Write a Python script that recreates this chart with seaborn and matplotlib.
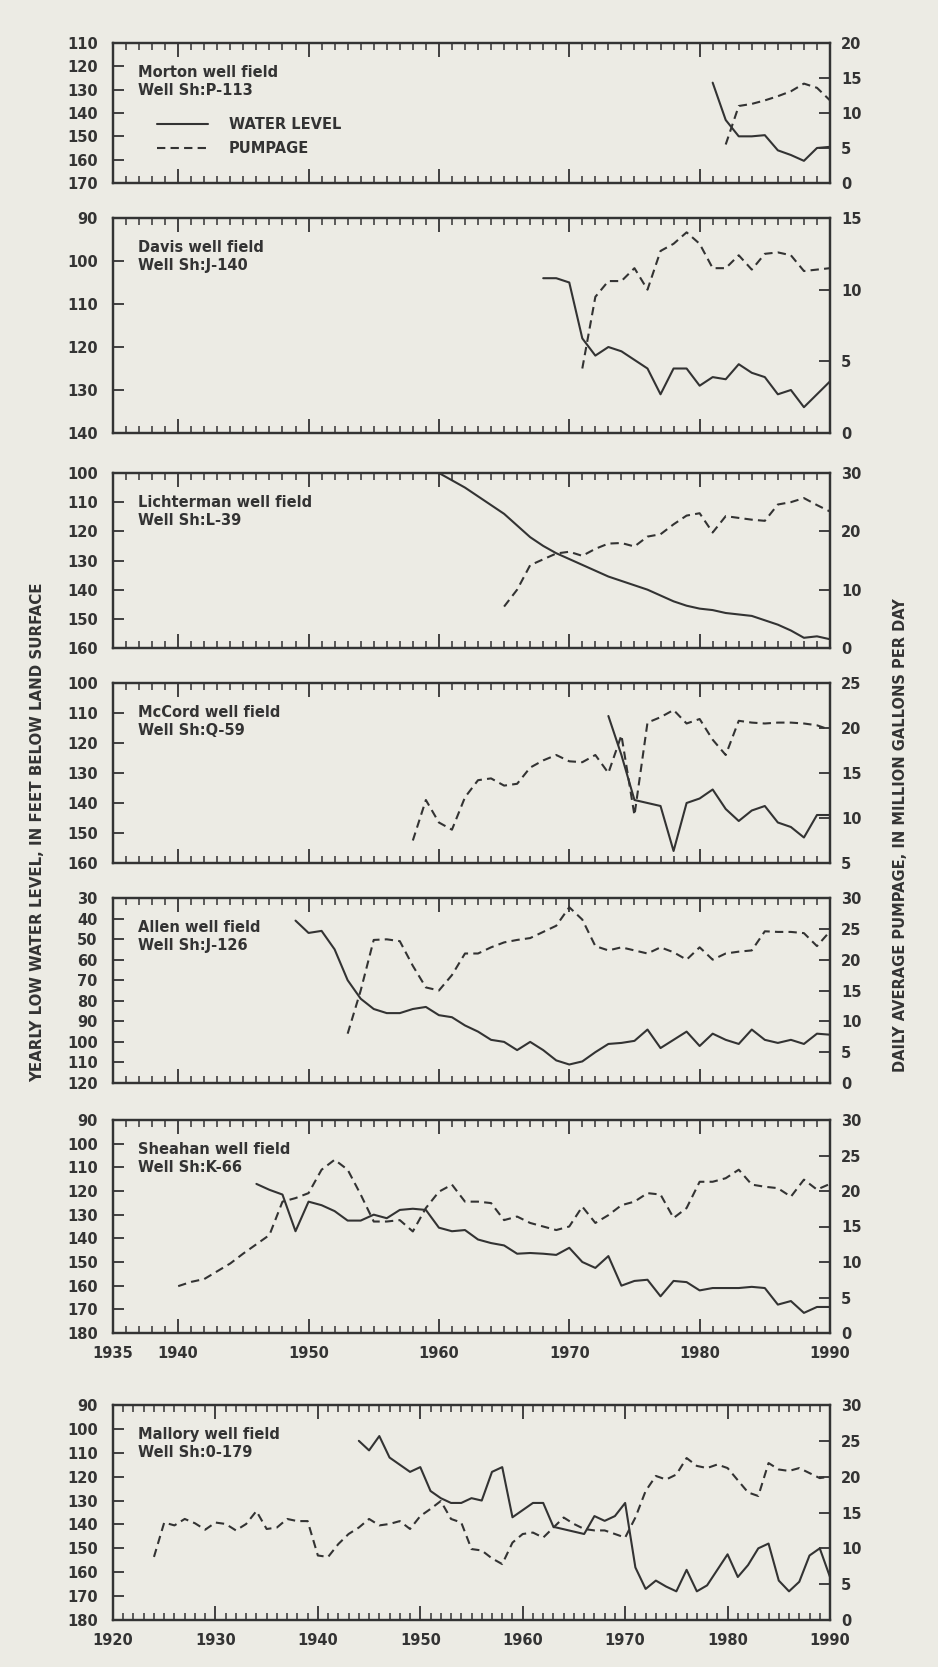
import matplotlib
matplotlib.use("Agg")
import matplotlib.pyplot as plt
import seaborn as sns
from matplotlib.ticker import FixedLocator, MultipleLocator

# === Data (read off the hydrographs) ===
# water level = yearly low, feet below land surface; pumpage = million gallons per day

morton_level_years = list(range(1981, 1991))
morton_level = [127, 143, 150, 150, 149.5, 156, 158, 160.5, 155, 154.5]
morton_pump_years = list(range(1982, 1991))
morton_pump = [5.5, 11.0, 11.3, 11.8, 12.4, 13.1, 14.2, 13.6, 11.8]

davis_level_years = list(range(1968, 1991))
davis_level = [104, 104, 105, 118, 122, 120, 121, 123, 125, 131, 125, 125, 129,
               127, 127.5, 124, 126, 127, 131, 130, 134, 131, 128]
davis_pump_years = list(range(1971, 1991))
davis_pump = [4.5, 9.5, 10.6, 10.6, 11.5, 10.0, 12.7, 13.2, 14.0, 13.2, 11.5,
              11.5, 12.4, 11.4, 12.5, 12.6, 12.4, 11.3, 11.4, 11.5]

licht_level_years = list(range(1960, 1991))
licht_level = [100, 102.5, 105, 108, 111, 114, 118, 122, 125, 127.5, 129.5, 131.5,
               133.5, 135.5, 137, 138.5, 140, 142, 144, 145.5, 146.5, 147, 148,
               148.5, 149, 150.5, 152, 154, 156.5, 156, 157]
licht_pump_years = list(range(1965, 1991))
licht_pump = [7.1, 10, 14.2, 15.2, 16.2, 16.5, 15.8, 17, 17.9, 18, 17.4, 19.1, 19.5,
              21.2, 22.7, 23.1, 19.8, 22.6, 22.3, 22.0, 21.8, 24.6, 25, 25.7, 24.5, 23.4]

mccord_level_years = list(range(1973, 1991))
mccord_level = [111, 124, 139, 140, 141, 156, 140, 138.5, 135.5, 142, 146, 142.5,
                141, 146.5, 148, 151.5, 144, 144]
mccord_pump_years = list(range(1958, 1991))
mccord_pump = [7.5, 12, 9.5, 8.7, 12.3, 14.2, 14.4, 13.6, 13.8, 15.6, 16.4, 17, 16.3,
               16.2, 17, 15, 19.2, 10.3, 20.6, 21.2, 22, 20.5, 21, 18.7, 17, 20.8,
               20.6, 20.5, 20.6, 20.6, 20.5, 20.3, 19.8]

allen_level_years = list(range(1949, 1991))
allen_level = [41, 47, 46, 55, 70, 79, 84, 86, 86, 84, 83, 87, 88, 92, 95, 99, 100,
               104, 100, 104, 109, 111, 109.5, 105, 101, 100.5, 99.5, 94, 103, 99,
               95, 102, 96, 99, 101, 94, 99, 100.5, 99, 101, 96, 96.5]
allen_pump_years = list(range(1953, 1991))
allen_pump = [8, 15, 23.2, 23.3, 23, 19, 15.5, 15, 17.5, 21, 21, 22, 22.8, 23.2, 23.5,
              24.5, 25.5, 28.5, 26.5, 22.2, 21.5, 22, 21.5, 21, 22, 21.2, 20, 22, 20,
              21, 21.3, 21.5, 24.6, 24.5, 24.5, 24.3, 22.2, 24.6]

sheahan_level_years = list(range(1946, 1991))
sheahan_level = [117, 119.5, 121.5, 137, 124.5, 126, 128.5, 132.5, 132.5, 130, 131.5,
                 128, 127.5, 128, 135.5, 137, 136.5, 140.5, 142, 143, 146.5, 146.2,
                 146.5, 147, 144, 150, 152.5, 147.5, 160, 158, 157.5, 164.5, 158,
                 158.5, 162, 161, 161, 161, 160.5, 161, 168, 166.5, 171.5, 169, 169]
sheahan_pump_years = list(range(1940, 1991))
sheahan_pump = [6.6, 7.2, 7.6, 8.7, 9.8, 11.2, 12.5, 13.8, 18.5, 19, 19.7, 23, 24.4,
                23, 19.5, 15.7, 15.7, 15.9, 14.3, 17.6, 19.9, 20.9, 18.5, 18.5, 18.3,
                15.9, 16.4, 15.5, 15, 14.5, 15, 17.8, 15.5, 16.6, 18, 18.5, 19.7, 19.5,
                16.2, 17.6, 21.3, 21.3, 21.8, 23, 20.9, 20.6, 20.4, 19.2, 21.6, 20.2, 21]

mallory_level_years = list(range(1944, 1991))
mallory_level = [105, 109, 103, 112, 115, 118, 116, 126, 129, 131, 131, 129, 130, 118,
                 116, 137, 134, 131, 131, 141, 142, 143, 144, 136.5, 138.5, 136.5, 131,
                 158, 167, 163.5, 166, 168, 159, 168, 165.5, 159, 152.5, 162, 157, 150,
                 148, 163.5, 168, 164, 153, 150, 162]
mallory_pump_years = list(range(1924, 1991))
mallory_pump = [8.8, 13.6, 13.2, 14.1, 13.5, 12.6, 13.6, 13.4, 12.5, 13.4, 15.2, 12.7,
                12.9, 14.1, 13.8, 13.8, 9, 8.8, 10.6, 12, 12.9, 14.1, 13.2, 13.4, 13.8,
                12.7, 14.5, 15.5, 16.6, 14.1, 13.6, 9.9, 9.7, 8.6, 7.8, 10.8, 12, 12.2,
                11.5, 12.9, 14.3, 13.4, 12.7, 12.5, 12.5, 12, 11.5, 14.3, 18, 20.1,
                19.6, 20.3, 22.6, 21.5, 21.2, 21.7, 21.2, 19.5, 17.8, 17.3, 21.9, 21,
                20.8, 21.2, 20.5, 19.8, 20]

# === Style ===
sns.set_style("ticks")
plt.rcParams['font.family'] = ['DejaVu Sans']
plt.rcParams['font.weight'] = 'bold'
INK = '#333333'
PAPER = '#ECEBE4'
FS = 10.5

W, H = 938, 1667
LEFT, RIGHT = 113, 830


def rect(top, bottom):
    return [LEFT / W, 1 - bottom / H, (RIGHT - LEFT) / W, (bottom - top) / H]


# name, well, level data, pump data, left axis, right axis, pixel box, x start
panels = [
    ("Morton", "Sh:P-113", morton_level_years, morton_level, morton_pump_years, morton_pump,
     (110, 170), (0, 20, 5), (43, 183), 1935),
    ("Davis", "Sh:J-140", davis_level_years, davis_level, davis_pump_years, davis_pump,
     (90, 140), (0, 15, 5), (218, 433), 1935),
    ("Lichterman", "Sh:L-39", licht_level_years, licht_level, licht_pump_years, licht_pump,
     (100, 160), (0, 30, 10), (473, 648), 1935),
    ("McCord", "Sh:Q-59", mccord_level_years, mccord_level, mccord_pump_years, mccord_pump,
     (100, 160), (5, 25, 5), (683, 863), 1935),
    ("Allen", "Sh:J-126", allen_level_years, allen_level, allen_pump_years, allen_pump,
     (30, 120), (0, 30, 5), (898, 1083), 1935),
    ("Sheahan", "Sh:K-66", sheahan_level_years, sheahan_level, sheahan_pump_years, sheahan_pump,
     (90, 180), (0, 30, 5), (1120, 1333), 1935),
    ("Mallory", "Sh:0-179", mallory_level_years, mallory_level, mallory_pump_years, mallory_pump,
     (90, 180), (0, 30, 5), (1405, 1620), 1920),
]

fig = plt.figure(figsize=(W / 100, H / 100), dpi=100, facecolor=PAPER)

for i, (name, well, lx, ly, px, py, (ltop, lbot), (rlo, rhi, rstep), (top, bot), x0) in enumerate(panels):
    ax = fig.add_axes(rect(top, bot))
    ax.set_facecolor(PAPER)
    sns.lineplot(x=lx, y=ly, ax=ax, color=INK, lw=1.5, legend=False)
    ax.set_ylim(lbot, ltop)
    ax.set_yticks(list(range(ltop, lbot + 1, 10)))
    ax.set_xlim(x0, 1990)
    if x0 == 1935:
        ax.xaxis.set_major_locator(FixedLocator([1935, 1940, 1950, 1960, 1970, 1980, 1990]))
    else:
        ax.xaxis.set_major_locator(MultipleLocator(10))
    ax.xaxis.set_minor_locator(MultipleLocator(1))
    ax.set_xlabel('')
    ax.set_ylabel('')
    show_x = i >= 5
    ax.tick_params(axis='x', which='major', direction='in', top=True, bottom=True,
                   length=10, width=1.3, colors=INK, labelsize=FS, pad=9,
                   labelbottom=show_x)
    ax.tick_params(axis='x', which='minor', direction='in', top=True, bottom=True,
                   length=5, width=1.1, colors=INK)
    ax.tick_params(axis='y', direction='in', length=8, width=1.3, colors=INK,
                   labelsize=FS, pad=11)
    for sp in ax.spines.values():
        sp.set_color(INK)
        sp.set_linewidth(1.6)

    ax2 = ax.twinx()
    sns.lineplot(x=px, y=py, ax=ax2, color=INK, lw=1.5, legend=False)
    ax2.lines[-1].set_dashes([4, 2.5])
    ax2.set_ylim(rlo, rhi)
    ax2.set_yticks(list(range(rlo, rhi + 1, rstep)))
    ax2.set_ylabel('')
    ax2.tick_params(axis='y', direction='in', length=8, width=1.3, colors=INK,
                    labelsize=FS, pad=8)
    for sp in ax2.spines.values():
        sp.set_color(INK)
        sp.set_linewidth(1.6)

    ax.annotate(f"{name} well field\nWell {well}", xy=(0.035, 1), xycoords='axes fraction',
                xytext=(0, -22), textcoords='offset pixels', ha='left', va='top',
                fontsize=FS, color=INK, linespacing=1.25)

    if i == 0:
        ax2.legend([ax.lines[0], ax2.lines[0]], ['WATER LEVEL', 'PUMPAGE'],
                   loc='upper left', bbox_to_anchor=(0.061, 0.47), frameon=False,
                   borderpad=0, borderaxespad=0, handlelength=3.5, handletextpad=1.45,
                   labelspacing=0.6, fontsize=FS, labelcolor=INK)

fig.text(38 / W, 1 - 832 / H, "YEARLY LOW WATER LEVEL, IN FEET BELOW LAND SURFACE",
         rotation=90, ha='center', va='center', fontsize=10.8, color=INK)
fig.text(900 / W, 1 - 835 / H, "DAILY AVERAGE PUMPAGE, IN MILLION GALLONS PER DAY",
         rotation=90, ha='center', va='center', fontsize=10.5, color=INK)

fig.savefig("out.png", dpi=100, facecolor=PAPER)
